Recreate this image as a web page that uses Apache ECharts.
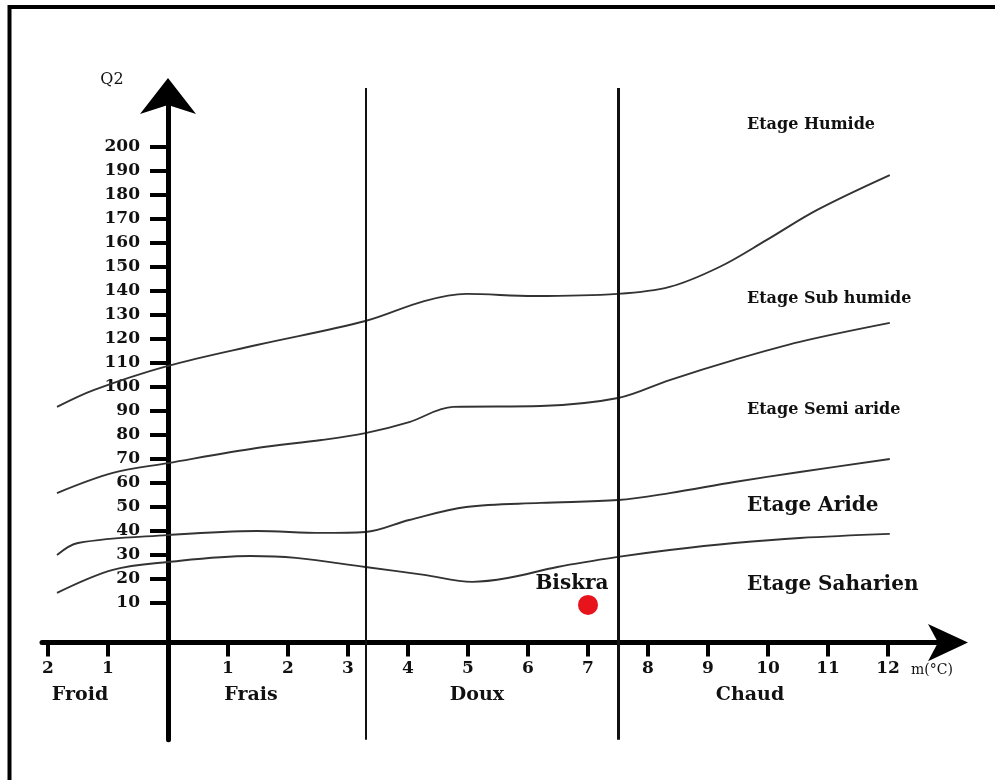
<!DOCTYPE html>
<html>
<head>
<meta charset="utf-8">
<title>Climagramme d'Emberger - Biskra</title>
<script src="https://cdn.jsdelivr.net/npm/echarts@6.0.0/dist/echarts.min.js"></script>
<style>
    html, body { margin: 0; padding: 0; background: #fff; }
    #main { width: 995px; height: 780px; }
</style>
</head>
<body>
<div id="main"></div>
<script type="text/javascript">
    // graduations des axes
    var mTicks = [-2, -1, 1, 2, 3, 4, 5, 6, 7, 8, 9, 10, 11, 12];
    var q2Ticks = [10, 20, 30, 40, 50, 60, 70, 80, 90, 100, 110, 120, 130, 140, 150, 160, 170, 180, 190, 200];

    // limites entre étages, points [m, Q2]
    var limiteHumide = [[-1.85, 91.7], [-1.23, 98.8], [0, 108.8], [1.48, 117.5], [3.29, 127.5], [4.27, 135.8],
        [4.97, 138.8], [6.1, 137.9], [7.5, 138.8], [8.36, 141.7], [9.19, 150], [9.98, 161.3], [10.82, 173.8], [12.03, 188.3]];
    var limiteSubHumide = [[-1.85, 55.8], [-0.92, 64.2], [0, 68.3], [1.48, 74.6], [2.56, 77.9], [3.29, 80.8],
        [4.02, 85.4], [4.75, 91.7], [6.21, 92.1], [7.5, 95.4], [8.36, 102.9], [9.44, 111.3], [10.53, 118.8], [12.03, 126.7]];
    var limiteSemiAride = [[-1.85, 30], [-1.5, 35], [0, 38.3], [1.48, 40], [2.56, 39.2], [3.29, 39.6], [4.02, 44.6],
        [4.97, 50], [6.21, 51.7], [7.5, 52.9], [8.36, 55.8], [9.44, 60.4], [10.53, 64.6], [12.03, 70]];
    var limiteAride = [[-1.85, 14.2], [-0.92, 23.8], [0, 27.1], [1.37, 29.6], [2.13, 28.8], [3.29, 25], [4.27, 21.7],
        [5.07, 18.8], [5.66, 20.4], [6.49, 25], [7.5, 29.2], [8.36, 32.1], [9.44, 35], [10.53, 37.1], [12.03, 38.8]];
    var limites = [limiteHumide, limiteSubHumide, limiteSemiAride, limiteAride];

    // limites des variantes thermiques (m en °C)
    var variantesLimites = [3.29, 7.5];
    var variantes = ['Froid', 'Frais', 'Doux', 'Chaud'];
    var etages = ['Etage Humide', 'Etage Sub humide', 'Etage Semi aride', 'Etage Aride', 'Etage Saharien'];

    // station
    var biskra = [7, 9.2];

    // mise en page
    var xMin = -2.1, xMax = 13, yMin = -47, yMax = 225;
    var pxParM = 60, pxParQ = 2.4;
    var axeXenQ = -6.5;   // niveau de l'axe des m sur l'échelle Q2
    var axeYenM = 0;      // l'axe Q2 passe par m = 0
    var serif = '"DejaVu Serif", serif';
    var noir = '#111';

    var Dom = document.querySelector('#main');
    var myChart = echarts.init(Dom);

    var series = limites.map(function (pts) {
        return {
            type: 'line',
            data: pts,
            smooth: 0.35,
            showSymbol: false,
            silent: true,
            lineStyle: { color: '#333', width: 1.9 },
            z: 2
        };
    });

    // traits verticaux séparant les variantes
    series.push({
        type: 'line',
        data: [],
        markLine: {
            silent: true,
            symbol: 'none',
            label: { show: false },
            data: variantesLimites.map(function (m, i) {
                return [
                    { coord: [m, yMin], lineStyle: { color: noir, width: i === 0 ? 2 : 3, type: 'solid' } },
                    { coord: [m, 224.6] }
                ];
            })
        }
    });

    series.push({
        type: 'scatter',
        data: [biskra],
        symbol: 'circle',
        symbolSize: 20,
        itemStyle: { color: '#e8141c', opacity: 1 },
        label: {
            show: true,
            formatter: 'Biskra',
            position: 'top',
            distance: 1,
            offset: [-16, 0],
            color: noir,
            opacity: 1,
            fontFamily: serif,
            fontWeight: 'bold',
            fontSize: 20
        },
        z: 5
    });

    function texte(txt, x, y, taille, gras, align) {
        return {
            type: 'text',
            x: x,
            y: y,
            silent: true,
            style: {
                text: txt,
                fill: noir,
                font: (gras ? 'bold ' : '') + taille + 'px ' + serif,
                align: align || 'left',
                verticalAlign: 'middle'
            }
        };
    }

    var graphics = [
        { type: 'line', silent: true, shape: { x1: 9.5, y1: 5, x2: 9.5, y2: 780 }, style: { stroke: '#000', lineWidth: 4 } },
        { type: 'line', silent: true, shape: { x1: 8, y1: 7, x2: 995, y2: 7 }, style: { stroke: '#000', lineWidth: 4 } },
        texte('Q2', 112, 80, 16, false, 'center'),
        texte('m(°C)', 911, 670, 14, false, 'left')
    ];
    var etagesY = [125, 299, 410, 506, 585];
    etages.forEach(function (e, i) {
        graphics.push(texte(e, 747, etagesY[i], i < 3 ? 16 : 20, true, 'left'));
    });
    var variantesX = [80, 251, 477, 750];
    variantes.forEach(function (v, i) {
        graphics.push(texte(v, variantesX[i], 695, 19, true, 'center'));
    });

    var option = {
        animation: false,
        backgroundColor: '#fff',
        grid: {
            left: 42,
            top: 87,
            width: (xMax - xMin) * pxParM,
            height: (yMax - yMin) * pxParQ,
            containLabel: false,
            outerBoundsMode: 'none'
        },
        xAxis: {
            type: 'value',
            min: xMin,
            max: xMax,
            offset: -(axeXenQ - yMin) * pxParQ,
            axisLine: {
                onZero: false,
                lineStyle: { color: '#000', width: 5 },
                symbol: ['none', 'arrow'],
                symbolSize: [28, 40],
                symbolOffset: [0, 20]
            },
            axisTick: {
                customValues: mTicks,
                length: 14,
                lineStyle: { color: '#000', width: 4 }
            },
            axisLabel: {
                customValues: mTicks,
                formatter: function (v) { return String(Math.abs(v)); },
                margin: 17,
                color: noir,
                fontFamily: serif,
                fontWeight: 'bold',
                fontSize: 17
            },
            splitLine: { show: false }
        },
        yAxis: {
            type: 'value',
            min: yMin,
            max: yMax,
            offset: -(axeYenM - xMin) * pxParM,
            axisLine: {
                onZero: false,
                lineStyle: { color: '#000', width: 5 },
                symbol: ['none', 'arrow'],
                symbolSize: [42, 36],
                symbolOffset: [0, 9]
            },
            axisTick: {
                customValues: q2Ticks,
                length: 18,
                lineStyle: { color: '#000', width: 4 }
            },
            axisLabel: {
                customValues: q2Ticks,
                margin: 28,
                color: noir,
                fontFamily: serif,
                fontWeight: 'bold',
                fontSize: 17
            },
            splitLine: { show: false }
        },
        graphic: graphics,
        series: series
    };
    myChart.setOption(option);
</script>
</body>
</html>
